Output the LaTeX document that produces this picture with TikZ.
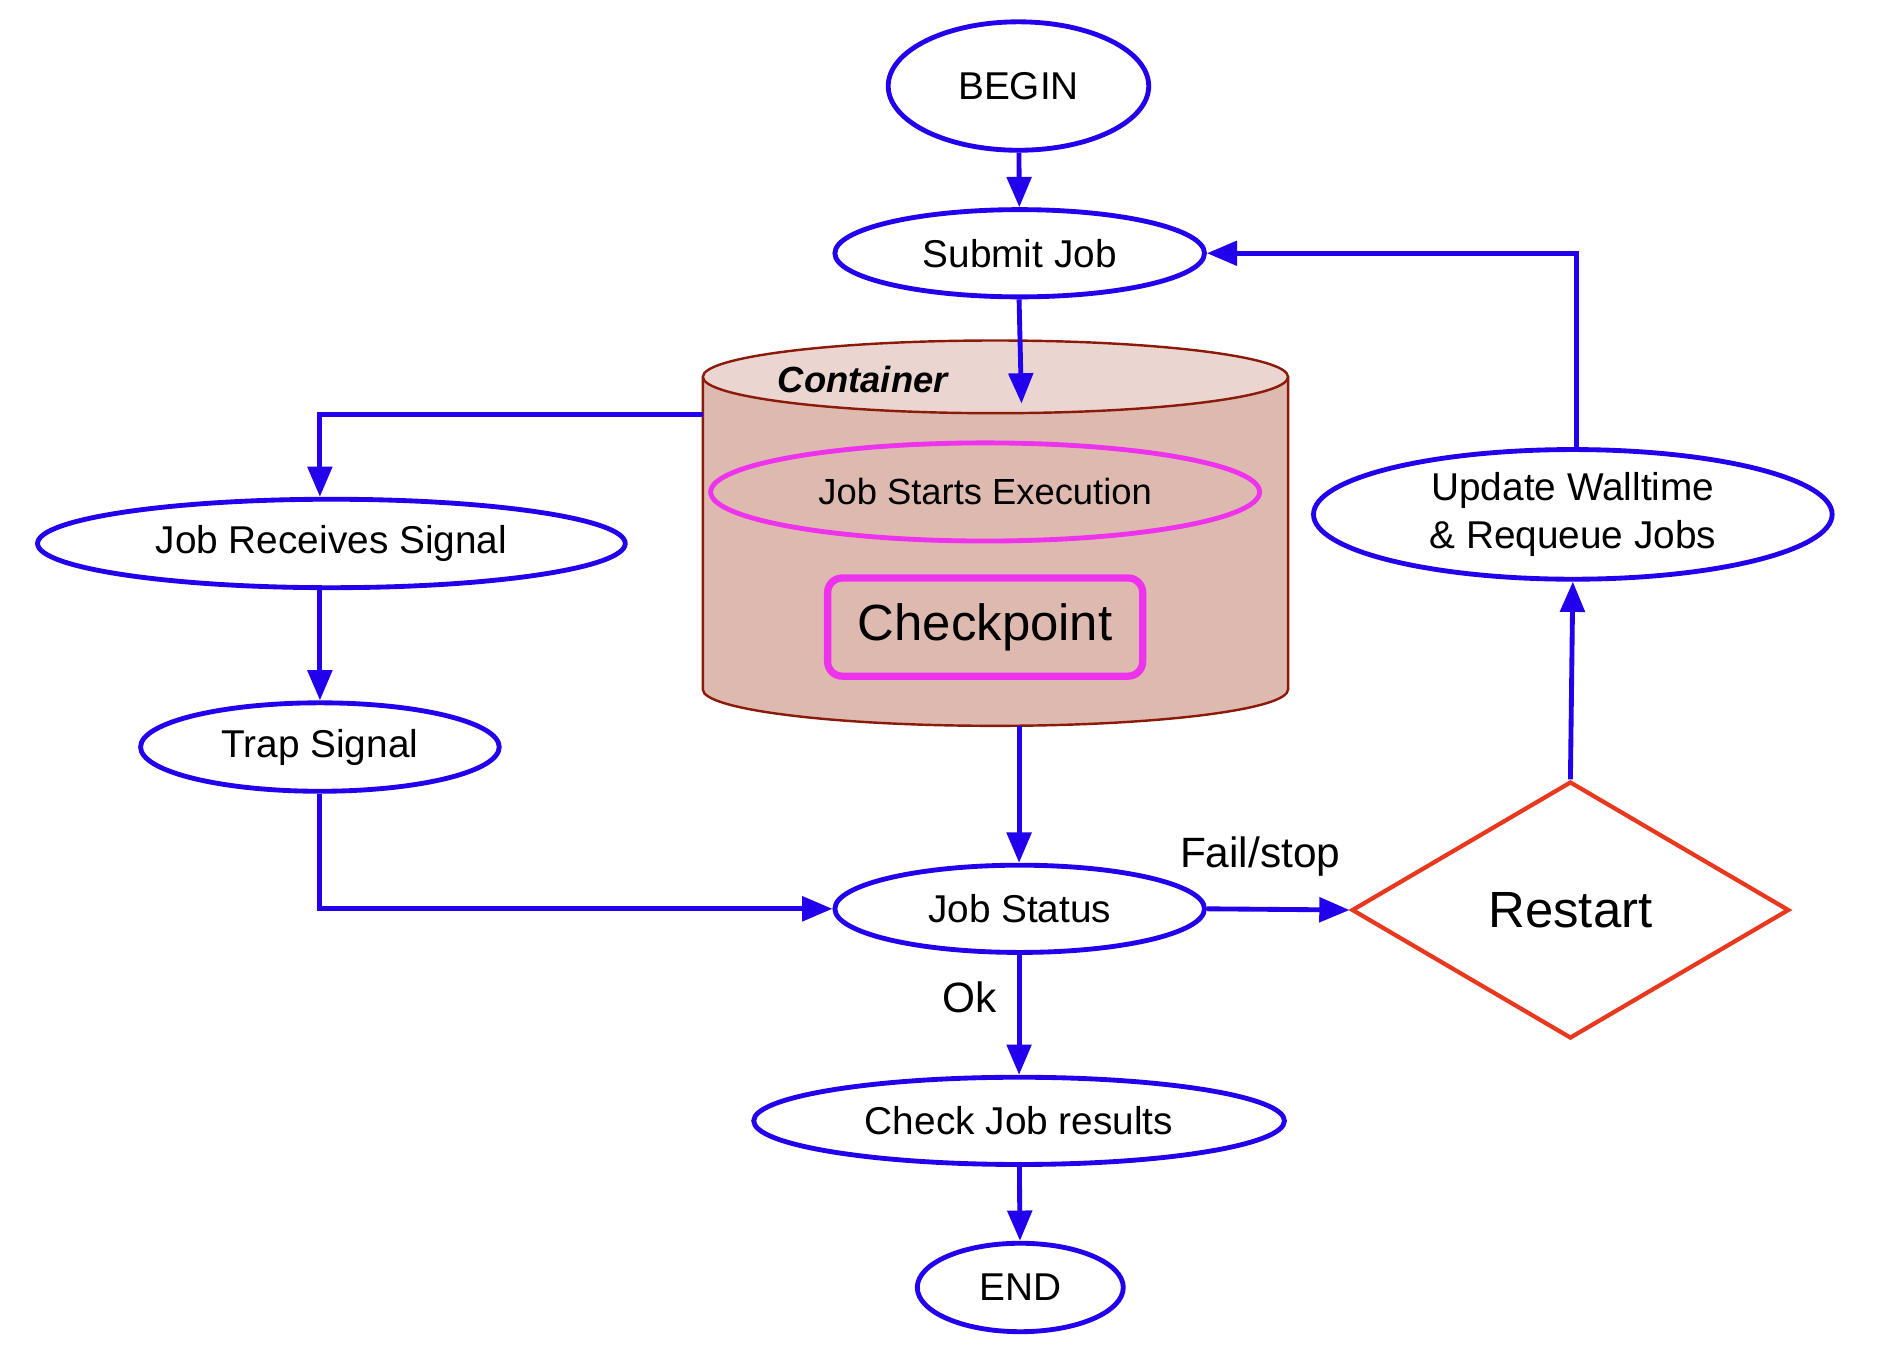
\documentclass[tikz,border=0pt]{standalone}
\usepackage{fontspec}
\setmainfont{Liberation Sans}
\usetikzlibrary{arrows.meta,shapes.geometric,calc}
\definecolor{fblue}{HTML}{2200EE}
\definecolor{fmag}{HTML}{EE33EE}
\definecolor{fred}{HTML}{E8381E}
\definecolor{cylbody}{HTML}{DEB9AF}
\definecolor{cyltop}{HTML}{EBD5D0}
\definecolor{cylline}{HTML}{8B1A0A}
\tikzset{
  ell/.style={ellipse, draw=fblue, line width=4pt, inner sep=0pt, fill=white,
    font=\fontsize{32}{39}\selectfont, align=center},
  arr/.style={draw=fblue, line width=4pt, -{Triangle[length=25pt,width=20pt]}},
  lbl/.style={inner sep=0pt, font=\fontsize{35}{42}\selectfont},
}
\begin{document}
\begin{tikzpicture}[x=1pt,y=-1pt]
\useasboundingbox (0,-1) rectangle (1568,1128);
% container cylinder
\fill[cylbody] (580,310) -- (580,568) arc[start angle=180,end angle=360,x radius=241.5pt,y radius=30pt] -- (1063,310) -- cycle;
\draw[cylline, line width=2pt] (580,310) -- (580,568) arc[start angle=180,end angle=360,x radius=241.5pt,y radius=30pt] -- (1063,310);
\draw[cylline, line width=2pt, fill=cyltop] (821.5,310) ellipse[x radius=241.5pt, y radius=30pt];
\node[inner sep=0pt, font=\fontsize{30}{36}\selectfont\bfseries\itshape] (contl) at (712,312) {Container};
\coordinate (cyltopin) at (843,332);
\coordinate (cylleft) at (580,341);
\coordinate (cylbot) at (841,598);

\node[ellipse, draw=fmag, line width=4pt, inner sep=0pt, minimum width=453pt, minimum height=81pt,
  font=\fontsize{30}{36}\selectfont] (jse) at (813,405) {Job Starts Execution};
\node[draw=fmag, line width=6pt, rounded corners=12pt, minimum width=260pt, minimum height=81pt,
  font=\fontsize{42}{50}\selectfont] (ckpt) at (813,516.5) {Checkpoint};

% nodes
\node[ell, minimum width=215pt, minimum height=106pt] (begin) at (840.5,70) {BEGIN};
\node[ell, minimum width=305pt, minimum height=72pt] (submit) at (841.5,208) {Submit Job};
\node[ell, minimum width=485pt, minimum height=73pt] (jrs) at (273.5,447.5) {Job Receives Signal};
\node[ell, minimum width=296pt, minimum height=73pt] (trap) at (264,615.5) {Trap Signal};
\node[ell, minimum width=305pt, minimum height=72pt] (status) at (841.5,749) {Job Status};
\node[ell, minimum width=428pt, minimum height=107pt] (update) at (1298,423.5) {Update Walltime\\\& Requeue Jobs};
\node[ell, minimum width=438pt, minimum height=72pt] (check) at (841,924) {Check Job results};
\node[ell, minimum width=170pt, minimum height=73pt] (end) at (842,1061.5) {END};
\node[diamond, draw=fred, line width=3.5pt, inner sep=0pt, aspect=1.7, minimum width=361pt, minimum height=212pt,
  font=\fontsize{42}{50}\selectfont] (restart) at (1296,750) {Restart};

% labels
\node[lbl] (failstop) at (1040,706) {Fail/stop};
\node[lbl] (ok) at (800,822) {Ok};

% connectors
\draw[arr] (begin) -- (submit);
\draw[arr] ([xshift=-0.5pt]submit.south) -- (cyltopin);
\draw[arr] (cylleft) -| ([xshift=-9.5pt]jrs.north);
\draw[arr] ([xshift=-9.5pt]jrs.south) -- (trap.north);
\draw[arr] (trap.south) |- (status.west);
\draw[arr] (cylbot) -- ([xshift=-0.5pt]status.north);
\draw[arr] (status.east) -- (restart.west);
\draw[arr] (restart.north) -- (update.south);
\draw[arr] ([xshift=3pt]update.north) |- (submit.east);
\draw[arr] ([xshift=-0.5pt]status.south) -- (check.north);
\draw[arr] (check) -- (end);
\end{tikzpicture}
\end{document}
